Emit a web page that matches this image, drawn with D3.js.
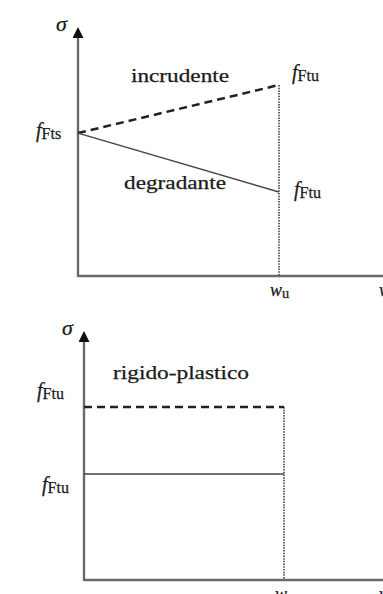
<!DOCTYPE html>
<html>
<head>
<meta charset="utf-8">
<script src="https://cdn.jsdelivr.net/npm/d3@7"></script>
<style>
  html, body { margin: 0; padding: 0; background: #fff; overflow: hidden; }
  svg text { font-family: "Liberation Serif", "Times New Roman", Times, serif; fill: #1a1a1a; stroke: #1a1a1a; stroke-width: 0.25px; }
</style>
</head>
<body>
<div id="chart"></div>
<script>
// crack opening (w / wu) and stress (sigma, relative to axis height)
var wPoints = [0, 1]
var incrudente = [0.565, 0.755]   // hardening: fFts -> fFtu
var degradante = [0.565, 0.332]   // softening: fFts -> fFtu
var rigidoUpper = [0.684, 0.684]  // rigid-plastic, dashed
var rigidoLower = [0.419, 0.419]  // rigid-plastic, solid

var W = 383, H = 594
var svg = d3.select('#chart').append('svg')
  .attr('width', W)
  .attr('height', H)

svg.append('defs').append('marker')
  .attr('id', 'arrow')
  .attr('viewBox', '0 0 10 10')
  .attr('refX', 5).attr('refY', 10)
  .attr('markerWidth', 11).attr('markerHeight', 15)
  .attr('markerUnits', 'userSpaceOnUse')
  .attr('orient', '0')
  .append('path')
  .attr('d', 'M0,10 L5,0 L10,10 Z')
  .attr('fill', '#111')

function panel (opt) {
  var x = d3.scaleLinear().domain([0, 1]).range([opt.x0, opt.x1])
  var y = d3.scaleLinear().domain([0, 1]).range([opt.y0, opt.yTop])
  var g = svg.append('g')

  // axes
  g.append('line')
    .attr('x1', x(0)).attr('x2', W + 5)
    .attr('y1', y(0)).attr('y2', y(0))
    .attr('stroke', '#6a6a6a').attr('stroke-width', 2.4)
  g.append('line')
    .attr('x1', x(0)).attr('x2', x(0))
    .attr('y1', y(0) + 1).attr('y2', y(1) + 15)
    .attr('stroke', '#6a6a6a').attr('stroke-width', 2.4)
    .attr('marker-end', 'url(#arrow)')

  var line = d3.line()
    .x(function (d, i) { return x(wPoints[i]) })
    .y(function (d) { return y(d) })

  // dotted vertical at wu
  var topVal = d3.max(opt.dashed)
  g.append('line')
    .attr('x1', x(1)).attr('x2', x(1))
    .attr('y1', y(topVal)).attr('y2', y(0))
    .attr('stroke', '#555').attr('stroke-width', 1.8)
    .attr('stroke-dasharray', '1.5,1.2')

  g.append('path')
    .attr('d', line(opt.dashed))
    .attr('fill', 'none').attr('stroke', '#222')
    .attr('stroke-width', 2.5).attr('stroke-dasharray', '8,5')
  g.append('path')
    .attr('d', line(opt.solid))
    .attr('fill', 'none').attr('stroke', '#444')
    .attr('stroke-width', 1.4)

  // sigma label
  g.append('text')
    .attr('x', x(0) - 22).attr('y', y(1) + 8)
    .style('font-style', 'italic').style('font-size', '22px')
    .text('σ')

  // w_u labels
  sub(g, x(1) - 9, opt.y0 + 20, 'w', 'u', 18)
  g.append('text')
    .attr('x', W - 4).attr('y', opt.y0 + 20)
    .style('font-style', 'italic').style('font-size', '18px')
    .text('w')

  return { x: x, y: y, g: g }
}

// italic main letter with a subscript
function sub (g, px, py, main, s, size) {
  var t = g.append('text').attr('x', px).attr('y', py)
    .style('font-size', size + 'px')
  t.append('tspan').style('font-style', 'italic').text(main)
  t.append('tspan').attr('dy', 2).style('font-size', (size * 0.8) + 'px')
    .style('font-style', 'normal').text(s)
  return t
}

function label (g, px, py, txt, len) {
  g.append('text')
    .attr('x', px).attr('y', py)
    .style('font-size', '19px')
    .attr('textLength', len).attr('lengthAdjust', 'spacingAndGlyphs')
    .text(txt)
}

// top panel: incrudente / degradante
var p1 = panel({ x0: 78, x1: 279, y0: 276, yTop: 23, dashed: incrudente, solid: degradante })
sub(p1.g, 36, p1.y(incrudente[0]) + 4, 'f', 'Fts', 20)
sub(p1.g, 292, p1.y(incrudente[1]) - 6, 'f', 'Ftu', 20)
sub(p1.g, 294, p1.y(degradante[1]) + 4, 'f', 'Ftu', 20)
label(p1.g, 131, 82, 'incrudente', 98)
label(p1.g, 124, 189, 'degradante', 102)

// bottom panel: rigido-plastico
var p2 = panel({ x0: 84, x1: 284, y0: 580, yTop: 327, dashed: rigidoUpper, solid: rigidoLower })
sub(p2.g, 37, p2.y(rigidoUpper[0]) - 10, 'f', 'Ftu', 20)
sub(p2.g, 42, p2.y(rigidoLower[0]) + 17, 'f', 'Ftu', 20)
label(p2.g, 113, 379, 'rigido-plastico', 136)
</script>
</body>
</html>
